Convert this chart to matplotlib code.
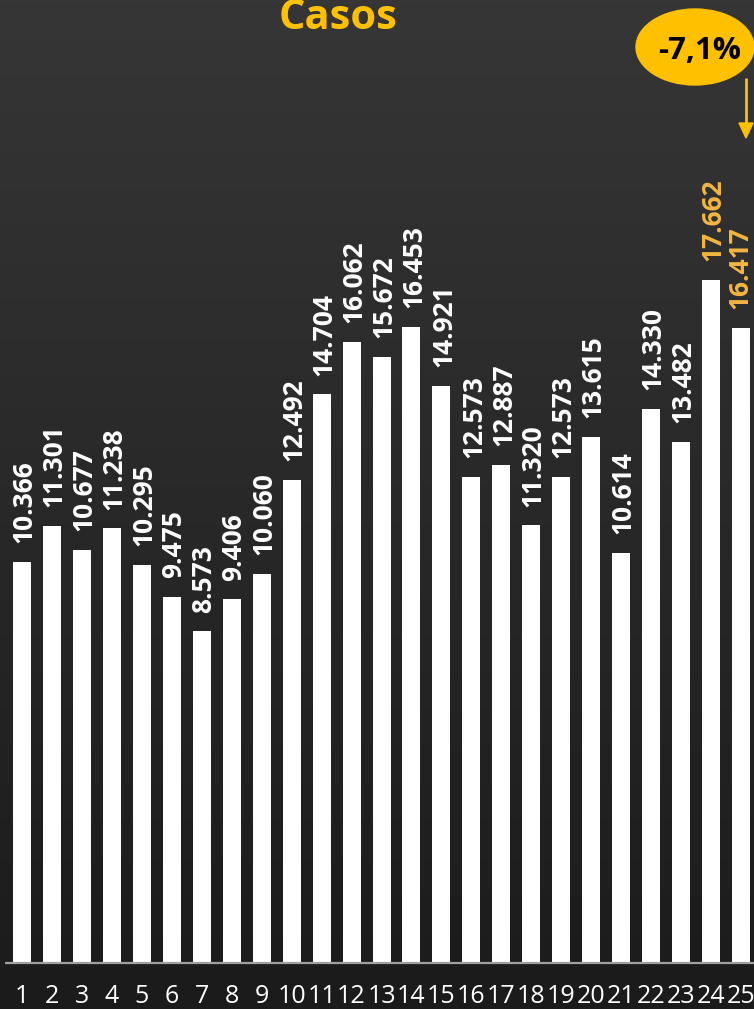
import numpy as np
import matplotlib
matplotlib.use("Agg")
import matplotlib.pyplot as plt
from matplotlib.patches import Ellipse, Polygon

categories = [str(i) for i in range(1, 26)]
values = [10366, 11301, 10677, 11238, 10295, 9475, 8573, 9406, 10060, 12492,
          14704, 16062, 15672, 16453, 14921, 12573, 12887, 11320, 12573, 13615,
          10614, 14330, 13482, 17662, 16417]
highlight = [23, 24]  # indices of last two bars with gold labels
title = "Casos"
change_label = "-7,1%"

W, H = 754, 1009
fig = plt.figure(figsize=(W / 100, H / 100), dpi=100)

# background gradient
bg = fig.add_axes([0, 0, 1, 1], zorder=-2)
grad = np.linspace(0, 1, 256).reshape(-1, 1)
c_top = np.array([0x36, 0x36, 0x36]) / 255
c_bot = np.array([0x1b, 0x1b, 0x1b]) / 255
img = c_top[None, None, :] * (1 - grad[:, :, None]) + c_bot[None, None, :] * grad[:, :, None]
bg.imshow(img, aspect="auto", extent=[0, 1, 0, 1])
bg.axis("off")

FONT = "Open Sans"
GOLD = "#FFC000"
LGOLD = "#F4B63F"

ax_bottom = (H - 963) / H
ax = fig.add_axes([0, ax_bottom, 1, 1 - ax_bottom])
ax.set_facecolor("none")
x = np.arange(len(values))
ax.bar(x, values, width=0.6, color="white", zorder=3)
px = 29.96
ax.set_xlim(-22 / px, (W - 22) / px)
ax.set_ylim(0, 963 / 0.03867)
for s in ax.spines.values():
    s.set_visible(False)
ax.plot([-17 / px, (W - 22) / px], [0, 0], color="#a0a0a0", lw=1.6, zorder=4,
        solid_capstyle="butt", clip_on=False)
ax.set_yticks([])
ax.set_xticks(x)
ax.set_xticklabels(categories, fontsize=18, color="white", fontfamily=FONT)
ax.tick_params(axis="x", length=0, pad=15)

for i, v in enumerate(values):
    col = LGOLD if i in highlight else "white"
    dx = -0.5 if i == len(values) - 1 else 1.5
    ax.annotate(f"{v:,}".replace(",", "."), (i, v), xytext=(dx, 13.5),
                textcoords="offset points", rotation=90, ha="center", va="bottom",
                fontsize=19, fontweight="bold", color=col, fontfamily=FONT)

# overlay in pixel coordinates
ov = fig.add_axes([0, 0, 1, 1], zorder=5)
ov.set_xlim(0, W)
ov.set_ylim(H, 0)
ov.axis("off")
ov.set_facecolor("none")
ov.text(338, 29, title, ha="center", va="baseline", fontsize=30,
        fontweight="bold", color=GOLD, fontfamily=FONT)
ov.add_patch(Ellipse((695, 47), 118, 76, color=GOLD))
ov.text(700, 51, change_label, ha="center", va="center", fontsize=22.5,
        fontweight="bold", color="black", fontfamily=FONT)
ov.plot([746, 746], [78, 125], color=GOLD, lw=2, solid_capstyle="butt")
ov.add_patch(Polygon([[739, 123], [753, 123], [746, 138]], closed=True, color=GOLD))

fig.savefig("out.png", dpi=100)
